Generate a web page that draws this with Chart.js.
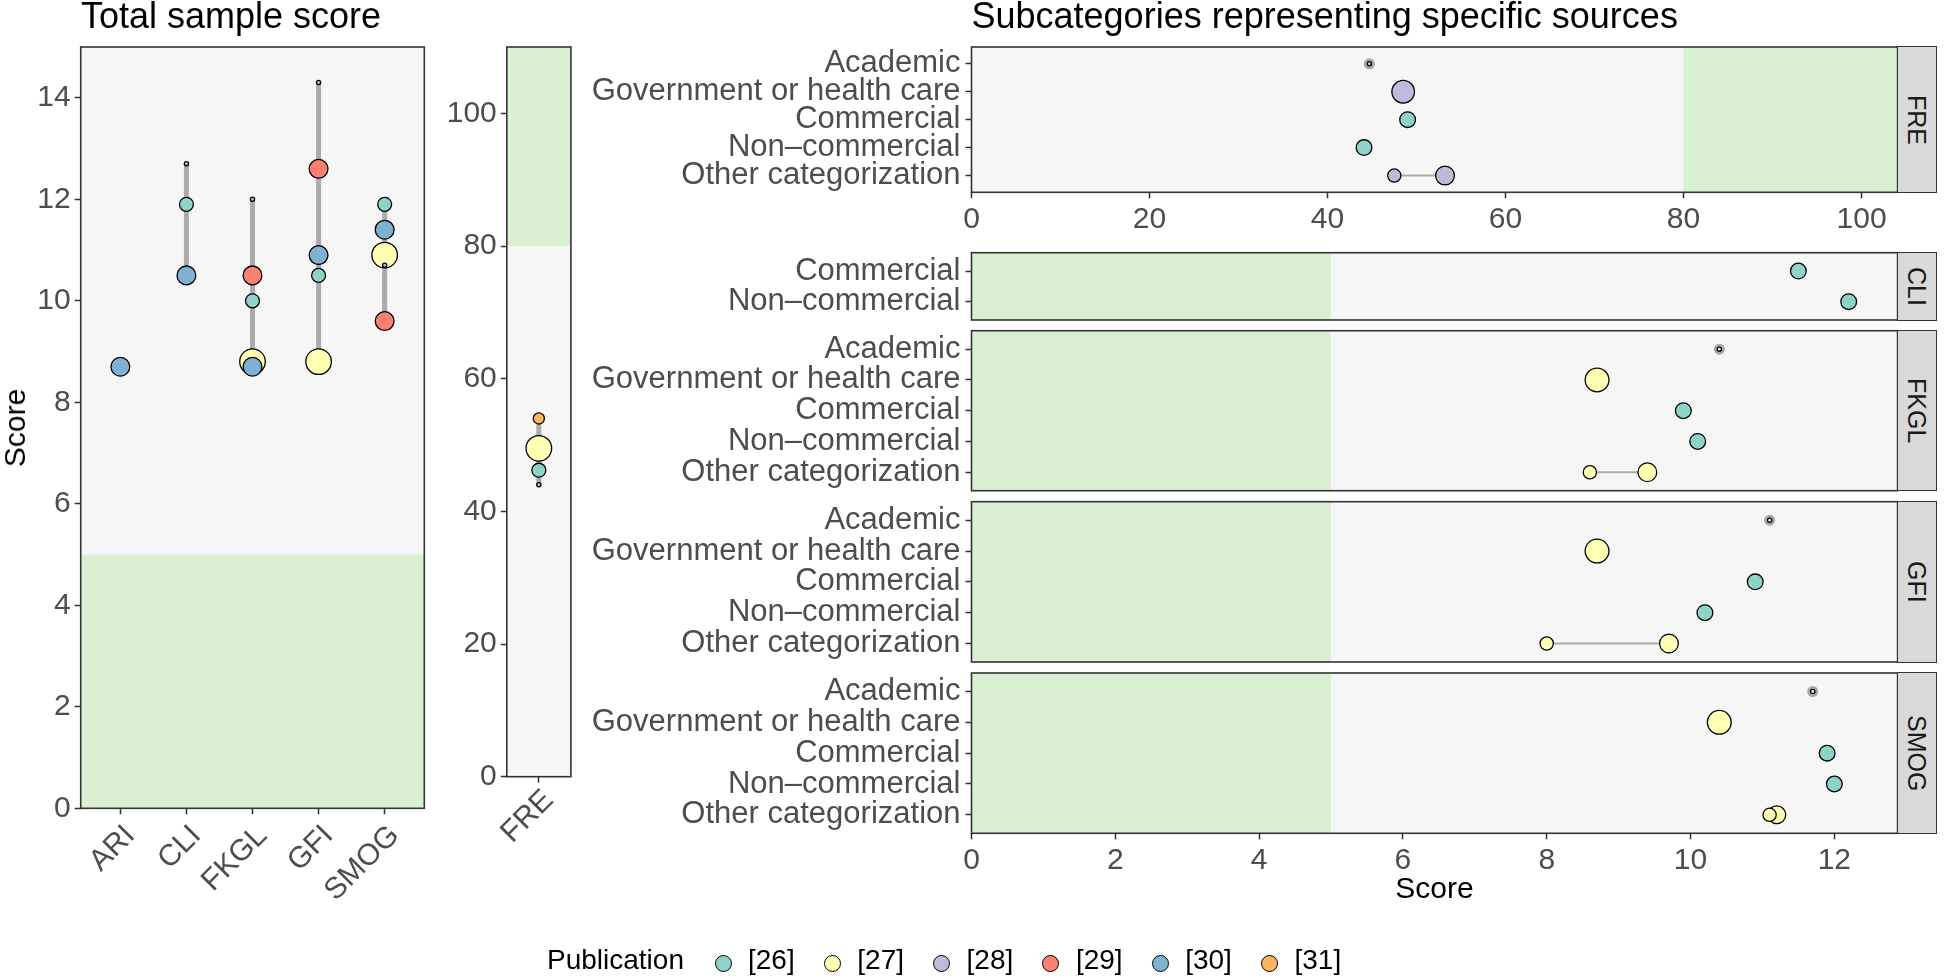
<!DOCTYPE html>
<html lang="en">
<head>
<meta charset="utf-8">
<title>Readability scores by publication</title>
<script src="https://cdn.jsdelivr.net/npm/chart.js@4.4.1/dist/chart.umd.min.js"></script>
<style>
  html, body { margin: 0; padding: 0; background: #ffffff; }
  #figure { position: relative; width: 1944px; height: 980px; overflow: hidden;
            font-family: "Liberation Sans", Arial, Helvetica, sans-serif; }
  #figure canvas { position: absolute; left: 0; top: 0; }
  .label { position: absolute; white-space: nowrap; line-height: 1; color: #000; }
  .panel-title { font-size: 36px; }
  .axis-title { font-size: 30px; }
  .strip { position: absolute; box-sizing: border-box; background: #D9D9D9;
           border: 1.6px solid #333333; display: flex; align-items: center; justify-content: center; }
  .strip span { writing-mode: vertical-rl; font-size: 25px; line-height: 1; color: #1A1A1A; }
  .legend-key { position: absolute; box-sizing: border-box; width: 17px; height: 17px;
                border-radius: 50%; border: 1.3px solid #000; }
  .legend-text { position: absolute; white-space: nowrap; line-height: 1; font-size: 28px; color: #000; }
</style>
</head>
<body>
<div id="figure"></div>
<script>
// ---- data ----
const indexLabels = ["ARI", "CLI", "FKGL", "GFI", "SMOG"];
const pubLabels = ["[26]", "[27]", "[28]", "[29]", "[30]", "[31]"];

// total sample score per publication, in indexLabels order (null = not reported)
const total26 = [null, 11.9, 10.0, 10.5, 11.9];
const total27 = [null, null, 8.8, 8.8, 10.9];
const total28 = [null, 12.7, 12.0, 14.3, 10.7];
const total29 = [null, null, 10.5, 12.6, 9.6];
const total30 = [8.7, 10.5, 8.7, 10.9, 11.4];
const total31 = [null, null, null, null, null];
// FRE total per publication, in pubLabels order
const freTotal = [46.2, 49.5, 44.0, null, null, 54.0];
// number of texts behind each publication (marker area)
const pubTexts = [11, 37, 1, 20, 20, 7];

const totalTicks = [0, 2, 4, 6, 8, 10, 12, 14];
const freTicks = [0, 20, 40, 60, 80, 100];
const gradeTicks = [0, 2, 4, 6, 8, 10, 12];
const gradeTarget = [0, 5];
const freTarget = [80, 110];

const sourceLabels = ["Academic", "Government or health care", "Commercial", "Non–commercial", "Other categorization"];

// subcategories: one entry per point
const freSubSource = ["Academic", "Government or health care", "Commercial", "Non–commercial", "Other categorization", "Other categorization"];
const freSubPub = ["[28]", "[28]", "[26]", "[26]", "[28]", "[28]"];
const freSubScore = [44.7, 48.5, 49.0, 44.1, 47.5, 53.2];
const freSubTexts = [1, 29, 14, 14, 10, 20];

const cliSubSource = ["Commercial", "Non–commercial"];
const cliSubPub = ["[26]", "[26]"];
const cliSubScore = [11.5, 12.2];
const cliSubTexts = [14, 14];

const fkglSubSource = ["Academic", "Government or health care", "Commercial", "Non–commercial", "Other categorization", "Other categorization"];
const fkglSubPub = ["[27]", "[27]", "[26]", "[26]", "[27]", "[27]"];
const fkglSubScore = [10.4, 8.7, 9.9, 10.1, 8.6, 9.4];
const fkglSubTexts = [1, 32, 14, 14, 10, 20];

const gfiSubSource = ["Academic", "Government or health care", "Commercial", "Non–commercial", "Other categorization", "Other categorization"];
const gfiSubPub = ["[27]", "[27]", "[26]", "[26]", "[27]", "[27]"];
const gfiSubScore = [11.1, 8.7, 10.9, 10.2, 8.0, 9.7];
const gfiSubTexts = [1, 32, 14, 14, 10, 20];

const smogSubSource = ["Academic", "Government or health care", "Commercial", "Non–commercial", "Other categorization", "Other categorization"];
const smogSubPub = ["[27]", "[27]", "[26]", "[26]", "[27]", "[27]"];
const smogSubScore = [11.7, 10.4, 11.9, 12.0, 11.2, 11.1];
const smogSubTexts = [1, 32, 14, 14, 18, 10];

// ---- style ----
const FONT = '"Liberation Sans", Arial, Helvetica, sans-serif';
Chart.defaults.font.family = FONT;
const pubColors = ["#8DD3C7", "#FFFFB3", "#BEBADA", "#FB8072", "#80B1D3", "#FDB462"];
const panelBg = "#F6F6F6";
const targetBg = "#D9F0D3";
const lineGrey = "#ABABAB";
const frameColor = "#333333";
const tickText = "#4D4D4D";
const W = 1944, H = 980;

function radius(n) {
  return 2.1 * Math.sqrt(n);
}

const figure = document.getElementById("figure");

function addCanvas() {
  const c = document.createElement("canvas");
  c.width = W;
  c.height = H;
  figure.appendChild(c);
  return c;
}

function addText(text, cls, css) {
  const d = document.createElement("div");
  d.className = cls;
  d.textContent = text;
  Object.assign(d.style, css);
  figure.appendChild(d);
  return d;
}

// panel background, target band and border
const frame = {
  id: "frame",
  beforeDraw(chart, args, opts) {
    const { ctx, chartArea: a } = chart;
    ctx.save();
    ctx.fillStyle = panelBg;
    ctx.fillRect(a.left, a.top, a.width, a.height);
    if (opts.band) {
      const s = chart.scales[opts.band.axis];
      const p1 = s.getPixelForValue(Math.max(opts.band.from, s.min));
      const p2 = s.getPixelForValue(Math.min(opts.band.to, s.max));
      ctx.fillStyle = targetBg;
      if (opts.band.axis === "y") {
        ctx.fillRect(a.left, Math.min(p1, p2), a.width, Math.abs(p2 - p1));
      } else {
        ctx.fillRect(Math.min(p1, p2), a.top, Math.abs(p2 - p1), a.height);
      }
    }
    ctx.restore();
  },
  afterDraw(chart) {
    const { ctx, chartArea: a } = chart;
    ctx.save();
    ctx.strokeStyle = frameColor;
    ctx.lineWidth = 1.6;
    ctx.strokeRect(a.left, a.top, a.width, a.height);
    ctx.restore();
  },
};

function axis(min, max, ticks, opts) {
  return {
    type: "linear",
    min,
    max,
    reverse: !!opts.reverse,
    display: opts.display !== false,
    grid: { drawOnChartArea: false, drawTicks: true, tickLength: 6, tickWidth: 1.5, tickColor: frameColor },
    border: { display: false },
    ticks: {
      font: { size: opts.fontSize || 30 },
      color: tickText,
      padding: opts.padding != null ? opts.padding : 4,
      autoSkip: false,
      minRotation: opts.rotation || 0,
      maxRotation: opts.rotation || 0,
      labelOffset: opts.labelOffset || 0,
      callback: opts.labels ? (v) => opts.labels[v - 1] : (v) => String(v),
    },
    afterBuildTicks: (s) => {
      s.ticks = ticks.map((v) => ({ value: v }));
    },
    afterFit: (s) => {
      if (opts.width != null) s.width = opts.width;
      if (opts.height != null) s.height = opts.height;
    },
  };
}

function baseOptions(padding, band, scales) {
  return {
    responsive: false,
    animation: false,
    devicePixelRatio: 1,
    events: [],
    layout: { padding },
    plugins: { legend: { display: false }, tooltip: { enabled: false }, frame: { band } },
    scales,
  };
}

function segment(x1, y1, x2, y2, width) {
  return {
    data: [{ x: x1, y: y1 }, { x: x2, y: y2 }],
    showLine: true,
    borderColor: lineGrey,
    borderWidth: width,
    borderCapStyle: "butt",
    pointRadius: 0,
    order: 3,
  };
}

function pointSet(points) {
  return {
    data: points,
    pointBackgroundColor: points.map((p) => p.color),
    pointBorderColor: "#000000",
    pointBorderWidth: 1.3,
    pointRadius: points.map((p) => p.r),
    pointHoverRadius: points.map((p) => p.r),
    clip: false,
    order: 0,
  };
}

// ---- left panel: total sample score ----
const LEFT = { left: 80.7, right: 424.3, top: 47, bottom: 808.3 };
const totalRows = [total26, total27, total28, total29, total30, total31];
const totalPts = [];
totalRows.forEach((row, p) => {
  row.forEach((v, i) => {
    if (v != null) totalPts.push({ x: i + 1, y: v, color: pubColors[p], r: radius(pubTexts[p]) });
  });
});
const totalSegs = indexLabels.map((_, i) => {
  const vals = totalRows.map((row) => row[i]).filter((v) => v != null);
  return segment(i + 1, Math.min(...vals), i + 1, Math.max(...vals), 5);
});

new Chart(addCanvas(), {
  type: "scatter",
  data: { datasets: [pointSet(totalPts), ...totalSegs] },
  options: baseOptions(
    { left: LEFT.left - 80.7, right: W - LEFT.right, top: LEFT.top, bottom: H - LEFT.bottom - 100 },
    { axis: "y", from: gradeTarget[0], to: gradeTarget[1] },
    {
      x: axis(0.4, indexLabels.length + 0.6, indexLabels.map((_, i) => i + 1),
        { labels: indexLabels, rotation: 45, height: 100, padding: 4, labelOffset: 10 }),
      y: axis(0, 15, totalTicks, { width: 80.7 }),
    }
  ),
  plugins: [frame],
});

// ---- FRE total panel ----
const FREP = { left: 506.8, right: 570.9, top: 47, bottom: 776.7 };
const frePts = [];
freTotal.forEach((v, p) => {
  if (v != null) frePts.push({ x: 1, y: v, color: pubColors[p], r: radius(pubTexts[p]) });
});
const freVals = freTotal.filter((v) => v != null);

new Chart(addCanvas(), {
  type: "scatter",
  data: { datasets: [pointSet(frePts), segment(1, Math.min(...freVals), 1, Math.max(...freVals), 5)] },
  options: baseOptions(
    { left: FREP.left - 60, right: W - FREP.right, top: FREP.top, bottom: H - FREP.bottom - 100 },
    { axis: "y", from: freTarget[0], to: freTarget[1] },
    {
      x: axis(0.4, 1.6, [1], { labels: ["FRE"], rotation: 45, height: 100, padding: 0, labelOffset: 10 }),
      y: axis(0, 110, freTicks, { width: 60 }),
    }
  ),
  plugins: [frame],
});

// ---- subcategory panels ----
const SUB_LEFT = 971.5, SUB_RIGHT = 1897.6, STRIP_W = 40;

function subPanel(name, sources, srcArr, pubArr, scoreArr, textsArr, rowTop, rowBottom, xMax, xTicks, band, showX) {
  const pos = (s) => sources.indexOf(s) + 1;
  const pts = scoreArr.map((v, i) => ({
    x: v,
    y: pos(srcArr[i]),
    color: pubColors[pubLabels.indexOf(pubArr[i])],
    r: radius(textsArr[i]),
  }));
  const halos = pts.filter((p, i) => srcArr[i] === "Academic").map((p) => ({ x: p.x, y: p.y }));
  const segs = [];
  sources.forEach((s) => {
    const vals = scoreArr.filter((v, i) => srcArr[i] === s);
    if (vals.length > 1) segs.push(segment(Math.min(...vals), pos(s), Math.max(...vals), pos(s), 2));
  });
  const haloSet = {
    data: halos,
    pointBackgroundColor: "#A6A6A6",
    pointBorderWidth: 0,
    pointRadius: 5.5,
    pointHoverRadius: 5.5,
    clip: false,
    order: 1,
  };
  const xHeight = showX ? 60 : 0;
  new Chart(addCanvas(), {
    type: "scatter",
    data: { datasets: [pointSet(pts), haloSet, ...segs] },
    options: baseOptions(
      { left: SUB_LEFT - 420, right: W - SUB_RIGHT, top: rowTop, bottom: H - rowBottom - xHeight },
      band,
      {
        x: axis(0, xMax, xTicks, showX ? { height: xHeight, padding: 3 } : { display: false }),
        y: axis(0.4, sources.length + 0.6, sources.map((_, i) => i + 1),
          { labels: sources, reverse: true, width: 420, padding: 5, fontSize: 31 }),
      }
    ),
    plugins: [frame],
  });
  const strip = document.createElement("div");
  strip.className = "strip";
  Object.assign(strip.style, {
    left: SUB_RIGHT - 0.8 + "px",
    top: rowTop - 0.8 + "px",
    width: STRIP_W + "px",
    height: rowBottom - rowTop + 1.6 + "px",
  });
  const span = document.createElement("span");
  span.textContent = name;
  strip.appendChild(span);
  figure.appendChild(strip);
}

const gradeBand = { axis: "x", from: gradeTarget[0], to: gradeTarget[1] };
subPanel("FRE", sourceLabels, freSubSource, freSubPub, freSubScore, freSubTexts, 47, 192.3, 104.05, freTicks,
  { axis: "x", from: freTarget[0], to: freTarget[1] }, true);
subPanel("CLI", ["Commercial", "Non–commercial"], cliSubSource, cliSubPub, cliSubScore, cliSubTexts, 252.7, 320, 12.88, gradeTicks, gradeBand, false);
subPanel("FKGL", sourceLabels, fkglSubSource, fkglSubPub, fkglSubScore, fkglSubTexts, 330.7, 490.7, 12.88, gradeTicks, gradeBand, false);
subPanel("GFI", sourceLabels, gfiSubSource, gfiSubPub, gfiSubScore, gfiSubTexts, 501.7, 662, 12.88, gradeTicks, gradeBand, false);
subPanel("SMOG", sourceLabels, smogSubSource, smogSubPub, smogSubScore, smogSubTexts, 673, 833.3, 12.88, gradeTicks, gradeBand, true);

// ---- titles ----
addText("Total sample score", "label panel-title", { left: "81px", top: "-2px" });
addText("Subcategories representing specific sources", "label panel-title", { left: SUB_LEFT + "px", top: "-2px" });
addText("Score", "label axis-title", {
  left: "15px", top: (LEFT.top + LEFT.bottom) / 2 + "px", transform: "translate(-50%, -50%) rotate(-90deg)",
});
addText("Score", "label axis-title", {
  left: (SUB_LEFT + SUB_RIGHT) / 2 + "px", top: "873px", transform: "translateX(-50%)",
});

// ---- legend ----
addText("Publication", "legend-text", { left: "547px", top: "946px" });
pubLabels.forEach((lab, i) => {
  const cx = 723 + i * 109.3;
  const key = document.createElement("div");
  key.className = "legend-key";
  Object.assign(key.style, { left: cx - 8.5 + "px", top: 963 - 8.5 + "px", background: pubColors[i] });
  figure.appendChild(key);
  addText(lab, "legend-text", { left: cx + 25 + "px", top: "946px" });
});
</script>
</body>
</html>
